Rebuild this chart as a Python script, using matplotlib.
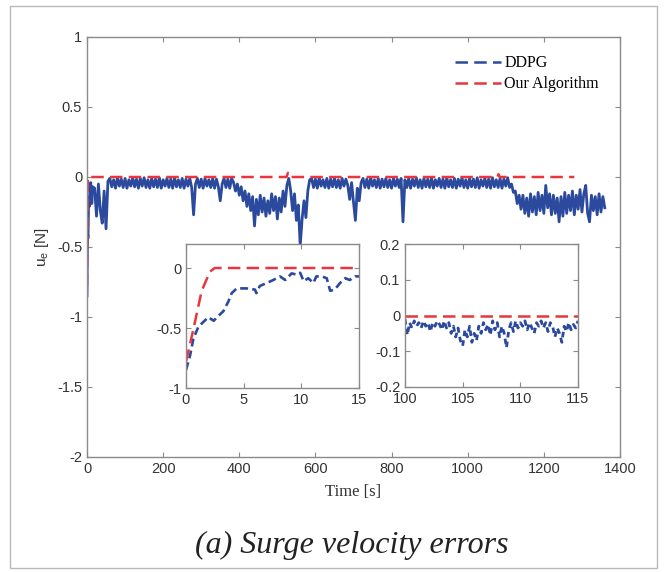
import matplotlib
matplotlib.use("Agg")
import matplotlib.pyplot as plt
import numpy as np
from matplotlib.lines import Line2D
from matplotlib.patches import Rectangle

plt.rcParams.update({
    "font.family": "Liberation Sans",
    "axes.unicode_minus": False,
    "xtick.direction": "in",
    "ytick.direction": "in",
    "xtick.top": True,
    "ytick.right": True,
    "path.simplify": False,   # keep the noisy trace as drawn
})

BLUE = "#2b4a9e"
RED = "#e8363c"
AXCOL = "#8a8a8a"
SERIF = "Liberation Serif"

# ── data ────────────────────────────────────────────────────────────────

# first seconds (also shown in the left inset)
ddpg_t_early = [0, 0.35, 0.64, 1.07, 1.5, 1.94, 2.4, 2.8, 3.24, 3.67, 3.96, 4.4,
                5.26, 5.98, 6.1, 6.4, 7.0, 7.57, 8.15, 8.6, 9.16, 9.6, 9.9,
                10.2, 10.6, 11.04, 11.3, 11.76, 12.2, 12.5, 12.9, 13.36, 13.8,
                14.2, 14.66, 15.0]
ddpg_early = [-0.85, -0.73, -0.59, -0.49, -0.45, -0.41, -0.44, -0.40, -0.36,
              -0.28, -0.21, -0.17, -0.17, -0.18, -0.21, -0.15, -0.125, -0.10,
              -0.07, -0.10, -0.045, -0.055, -0.04, -0.11, -0.085, -0.125,
              -0.07, -0.07, -0.085, -0.19, -0.18, -0.125, -0.085, -0.10,
              -0.07, -0.07]

# whole run, sampled every 5 s from 20 s to 1360 s
ddpg_t_main = np.arange(20, 1361, 5)
ddpg_main = [
    # 20-55
    -0.08, -0.28, -0.05, -0.24, -0.33, -0.10, -0.37, -0.03,
    # 60-380
    -0.01, -0.07, -0.02, -0.08, -0.005, -0.065, -0.015, -0.075,
    -0.01, -0.08, -0.02, -0.065, -0.005, -0.07, -0.015, -0.08,
    -0.01, -0.065, -0.005, -0.075, -0.02, -0.08, -0.01, -0.07,
    -0.015, -0.075, -0.005, -0.08, -0.02, -0.065, -0.01, -0.075,
    -0.015, -0.08, -0.005, -0.07, -0.02, -0.075, -0.01, -0.08,
    -0.015, -0.065, -0.01, -0.075, -0.27, -0.05, -0.01, -0.075,
    -0.015, -0.08, -0.01, -0.065, -0.02, -0.075, -0.01, -0.08,
    -0.015, -0.07, -0.17, -0.05, -0.01, -0.075, -0.015, -0.08, -0.01,
    # 385-530
    -0.04, -0.10, -0.05, -0.13, -0.07, -0.17, -0.10, -0.21, -0.12, -0.24,
    -0.14, -0.35, -0.16, -0.27, -0.13, -0.25, -0.15, -0.28, -0.17, -0.26,
    -0.12, -0.24, -0.14, -0.30, -0.15, -0.25, -0.10, -0.21, -0.06, -0.01,
    # 535-585
    -0.10, -0.24, -0.12, -0.31, -0.20, -0.49, -0.30, -0.17, -0.29, -0.10, -0.02,
    # 590-680
    -0.01, -0.075, -0.015, -0.08, -0.005, -0.065, -0.02, -0.075, -0.01, -0.08,
    -0.015, -0.07, -0.01, -0.075, -0.02, -0.08, -0.01, -0.065, -0.015,
    # 685-720
    -0.06, -0.16, -0.04, -0.18, -0.31, -0.08, -0.17, -0.04,
    # 725-830
    -0.01, -0.075, -0.015, -0.08, -0.005, -0.065, -0.02, -0.075, -0.01, -0.08,
    -0.015, -0.07, -0.01, -0.075, -0.02, -0.08, -0.01, -0.065, -0.015, -0.075,
    -0.01, -0.32,
    # 835-1110
    -0.02, -0.075, -0.01, -0.08, -0.015, -0.065, -0.005, -0.075,
    -0.02, -0.08, -0.01, -0.07, -0.015, -0.075, -0.005, -0.08,
    -0.02, -0.065, -0.01, -0.075, -0.015, -0.08, -0.005, -0.07,
    -0.02, -0.075, -0.01, -0.08, -0.015, -0.065, -0.005, -0.075,
    -0.02, -0.08, -0.01, -0.07, -0.015, -0.075, -0.005, -0.08,
    -0.02, -0.065, -0.01, -0.075, -0.015, -0.08, -0.005, -0.07,
    -0.02, -0.075, -0.01, -0.08, -0.015, -0.065, -0.005, -0.075,
    # 1115-1140
    -0.05, -0.11, -0.10, -0.19, -0.13, -0.23,
    # 1145-1360
    -0.13, -0.26, -0.15, -0.28, -0.12, -0.25, -0.14, -0.27, -0.11, -0.24,
    -0.13, -0.26, -0.06, -0.22, -0.12, -0.27, -0.13, -0.26, -0.15, -0.32,
    -0.14, -0.28, -0.11, -0.26, -0.13, -0.24, -0.10, -0.27, -0.13, -0.23,
    -0.09, -0.25, -0.12, -0.06, -0.26, -0.32, -0.13, -0.24, -0.14, -0.27,
    -0.12, -0.25, -0.14, -0.22,
]

# detail between 100 s and 115 s (right inset), every 0.2 s
ddpg_t_mid = np.arange(100, 115.01, 0.2)
ddpg_mid = [
    -0.010, -0.055, -0.020, -0.035, -0.015, -0.030, -0.020, -0.035, -0.015, -0.030,
    -0.020, -0.045, -0.020, -0.030, -0.015, -0.025, -0.040, -0.015, -0.035, -0.020,
    -0.050, -0.030, -0.060, -0.035, -0.070, -0.085, -0.040, -0.060, -0.030, -0.075,
    -0.050, -0.070, -0.030, -0.050, -0.020, -0.040, -0.025, -0.055, -0.015, -0.040,
    -0.020, -0.060, -0.030, -0.050, -0.090, -0.040, -0.020, -0.045, -0.015, -0.035,
    -0.020, -0.030, -0.015, -0.040, -0.020, -0.035, -0.050, -0.020, -0.030, -0.015,
    -0.035, -0.020, -0.045, -0.020, -0.030, -0.060, -0.035, -0.050, -0.075, -0.030,
    -0.045, -0.020, -0.040, -0.025, -0.035, -0.015,
]

ours_t = [0, 0.64, 1.36, 2.08, 2.5, 524, 528, 532, 1078, 1081, 1084, 1280]
ours = [-0.78, -0.51, -0.19, -0.03, 0.0, 0.0, 0.03, 0.0, 0.0, 0.02, 0.0, 0.0]

ours_t_mid = [100, 115]
ours_mid = [0.0, 0.0]

# ── figure ──────────────────────────────────────────────────────────────

fig = plt.figure(figsize=(6.66, 5.72), dpi=100)
fig.patches.append(Rectangle((10 / 666, 1 - 568 / 572), 647 / 666, 562 / 572,
                             transform=fig.transFigure, fill=False,
                             edgecolor="#b8b8b8", linewidth=1.0))

DASH = (5, 2.5)


def style_axes(ax):
    for sp in ax.spines.values():
        sp.set_color(AXCOL)
        sp.set_linewidth(1.0)
    ax.tick_params(colors=AXCOL, labelcolor="#333333", labelsize=10.5,
                   length=3.5, width=0.8)


ax = fig.add_axes([87 / 666, 1 - 457 / 572, 533 / 666, 420 / 572])
t_all = np.concatenate([ddpg_t_early, ddpg_t_main])
v_all = np.concatenate([ddpg_early, ddpg_main])
# the trace is so dense that its dashes merge into a solid band
ax.plot(t_all, v_all, color=BLUE, lw=2.0)
ax.plot(ours_t, ours, color=RED, lw=1.8, dashes=DASH)
ax.set_xlim(0, 1400)
ax.set_ylim(-2, 1)
ax.set_xticks(np.arange(0, 1401, 200))
ax.set_yticks([-2, -1.5, -1, -0.5, 0, 0.5, 1])
ax.set_yticklabels(["-2", "-1.5", "-1", "-0.5", "0", "0.5", "1"])
style_axes(ax)
ax.set_xlabel("Time [s]", family=SERIF, fontsize=12, color="#333333", labelpad=6)
ax.set_ylabel(r"u$_\mathregular{e}$ [N]", fontsize=11, color="#333333", labelpad=4)
handles = [Line2D([], [], color=BLUE, lw=1.8, dashes=DASH),
           Line2D([], [], color=RED, lw=1.8, dashes=DASH)]
ax.legend(handles, ["DDPG", "Our Algorithm"], loc="upper left",
          bbox_to_anchor=(0.675, 0.975), frameon=False,
          prop={"family": SERIF, "size": 11.5}, handlelength=2.9,
          handletextpad=0.2, labelspacing=0.3, borderpad=0)

# left inset: first 15 s
ax1 = fig.add_axes([186 / 666, 1 - 388 / 572, 173 / 666, 144 / 572])
ax1.plot(ddpg_t_early, ddpg_early, color=BLUE, lw=1.9, dashes=(3, 1.6))
ax1.plot(ours_t[:5] + [15], ours[:5] + [0.0], color=RED, lw=1.8, dashes=DASH)
ax1.set_xlim(0, 15)
ax1.set_ylim(-1, 0.2)
ax1.set_xticks([0, 5, 10, 15])
ax1.set_yticks([-1, -0.5, 0])
ax1.set_yticklabels(["-1", "-0.5", "0"])
style_axes(ax1)

# right inset: 100-115 s
ax2 = fig.add_axes([405 / 666, 1 - 387 / 572, 173 / 666, 143 / 572])
ax2.plot(ddpg_t_mid, ddpg_mid, color=BLUE, lw=2.0, dashes=(2, 1.5))
ax2.plot(ours_t_mid, ours_mid, color=RED, lw=1.8, dashes=DASH)
ax2.set_xlim(100, 115)
ax2.set_ylim(-0.2, 0.2)
ax2.set_xticks([100, 105, 110, 115])
ax2.set_yticks([-0.2, -0.1, 0, 0.1, 0.2])
ax2.set_yticklabels(["-0.2", "-0.1", "0", "0.1", "0.2"])
style_axes(ax2)

fig.text(352 / 666, 1 - 545 / 572, "(a) Surge velocity errors", family=SERIF,
         style="italic", fontsize=23, color="#222222", ha="center", va="center")

fig.savefig("out.png", dpi=100)
